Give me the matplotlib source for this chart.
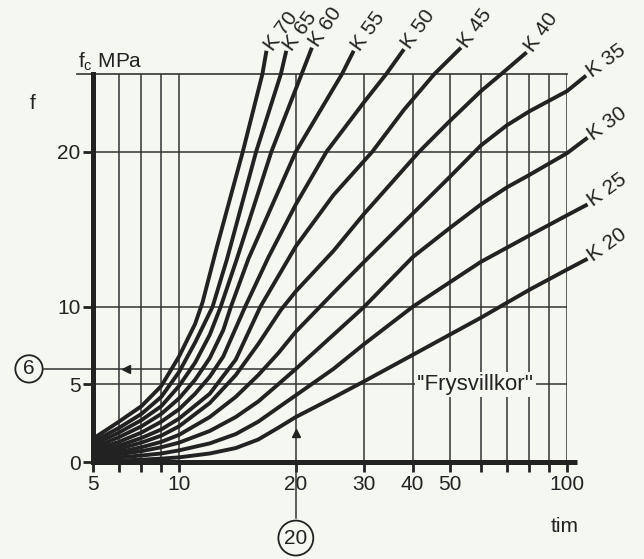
import numpy as np
import matplotlib.pyplot as plt

plt.rcParams['font.family'] = ['Liberation Sans', 'DejaVu Sans']

# hardening curves: time in hours (log axis) and strength fc in MPa
k20_t = [6, 7, 8, 9, 10, 12, 14, 16, 18, 20, 25, 30, 40, 60, 80, 100, 113]
k20_f = [0.05, 0.1, 0.15, 0.22, 0.3, 0.55, 0.9, 1.45, 2.2, 2.9, 4.15, 5.2, 6.9, 9.3, 11.1, 12.4, 13.1]
k25_t = [6, 7, 8, 9, 10, 12, 14, 16, 18, 20, 25, 30, 40, 50, 60, 80, 100, 113]
k25_f = [0.2, 0.3, 0.42, 0.55, 0.75, 1.2, 1.8, 2.6, 3.5, 4.3, 6.0, 7.6, 10.0, 11.6, 12.9, 14.6, 15.9, 16.6]
k30_t = [6, 7, 8, 9, 10, 12, 14, 16, 18, 20, 25, 30, 40, 50, 60, 70, 80, 100, 113]
k30_f = [0.3, 0.5, 0.7, 0.95, 1.25, 2.0, 2.9, 3.9, 5.0, 6.0, 8.2, 10.0, 13.2, 15.1, 16.6, 17.7, 18.5, 19.9, 20.9]
k35_t = [6, 7, 8, 9, 10, 12, 14, 16, 18, 20, 25, 30, 40, 50, 60, 70, 80, 100, 112]
k35_f = [0.4, 0.65, 0.95, 1.3, 1.75, 2.9, 4.2, 5.6, 7.0, 8.4, 10.9, 12.9, 16.0, 18.4, 20.4, 21.7, 22.6, 23.9, 24.9]
k40_t = [6, 7, 8, 9, 10, 12, 14, 16, 18.3, 20, 25, 30, 41.6, 50, 60, 67.7, 78.7]
k40_f = [0.5, 0.85, 1.25, 1.7, 2.3, 3.8, 5.6, 7.6, 9.8, 11.0, 13.6, 16.0, 20.0, 22.0, 23.9, 25.0, 26.4]
k45_t = [6, 7, 8, 9, 10, 12, 14, 16.2, 20, 25, 31.5, 38, 45.5, 53.3]
k45_f = [0.6, 1.05, 1.55, 2.1, 2.8, 4.4, 6.6, 10.0, 13.9, 17.2, 20.0, 22.7, 25.0, 26.7]
k50_t = [6, 7, 8, 9, 10, 11, 12, 13, 14.8, 17, 20, 24, 30, 34.2, 38.0]
k50_f = [0.75, 1.3, 1.9, 2.6, 3.4, 4.4, 5.5, 6.8, 10.0, 13.2, 16.6, 20.0, 23.2, 25.0, 26.6]
k55_t = [6, 7, 8, 9, 10, 11, 12, 13, 13.6, 15.1, 20.0, 26.3, 28.2]
k55_f = [0.9, 1.6, 2.3, 3.1, 4.1, 5.3, 6.7, 8.5, 10.0, 13.1, 20.0, 25.0, 26.5]
k60_t = [6, 7, 8, 9, 10, 11, 12, 12.8, 14.1, 17.3, 20.7, 22.0]
k60_f = [1.1, 1.9, 2.7, 3.6, 4.9, 6.4, 8.2, 10.0, 13.1, 20.0, 25.0, 26.7]
k65_t = [6, 7, 8, 9, 10, 11, 12.2, 13.3, 15.8, 18.3, 18.9]
k65_f = [1.3, 2.2, 3.1, 4.2, 5.8, 7.7, 10.0, 13.1, 20.0, 25.0, 26.5]
k70_t = [6, 7, 8, 9, 10, 11, 11.5, 12.5, 14.6, 16.4, 16.8]
k70_f = [1.5, 2.6, 3.6, 4.9, 6.8, 8.9, 10.3, 13.8, 20.0, 25.0, 26.5]

x_ticks = [6, 7, 8, 9, 10, 20, 30, 40, 50, 60, 70, 80, 90, 100]
x_tick_labels = ['5', '', '', '', '10', '20', '30', '40', '50', '', '', '', '', '100']
x_grid = [7, 8, 9, 10, 20, 30, 40, 50, 60, 70, 80, 90, 100]
y_ticks = [0, 5, 10, 20]
y_grid = [5, 10, 20]

# example reading: 20 h on K 30 gives 6 MPa
reading_t = 20
reading_f = 6

bg = '#f5f7f1'
ink = '#222222'

curves = [
    ('K 20', k20_t, k20_f, 36), ('K 25', k25_t, k25_f, 36),
    ('K 30', k30_t, k30_f, 36), ('K 35', k35_t, k35_f, 36),
    ('K 40', k40_t, k40_f, 54), ('K 45', k45_t, k45_f, 54),
    ('K 50', k50_t, k50_f, 54), ('K 55', k55_t, k55_f, 54),
    ('K 60', k60_t, k60_f, 56), ('K 65', k65_t, k65_f, 54),
    ('K 70', k70_t, k70_f, 54),
]

fig = plt.figure(figsize=(6.44, 5.59), dpi=100, facecolor=bg)
ax = fig.add_axes([0.1444, 0.1735, 0.736, 0.694])
ax.set_facecolor(bg)
ax.set_xscale('log')
ax.set_xlim(6, 100)
ax.set_ylim(0, 25)

# grid
for x in x_grid:
    ax.axvline(x, color='#333333', lw=1.1, zorder=1)
for y in y_grid:
    ax.axhline(y, color='#333333', lw=1.1, zorder=1)
ax.plot([-0.034, 1], [1, 1], transform=ax.transAxes, color='#333333',
        lw=1.2, clip_on=False, zorder=1)

# axes
for s in ['top', 'right', 'bottom']:
    ax.spines[s].set_visible(False)
ax.spines['left'].set_linewidth(3.6)
ax.spines['left'].set_color(ink)
ax.plot([0, 1.021], [0, 0], transform=ax.transAxes, color=ink, lw=3.6,
        clip_on=False, solid_capstyle='butt', zorder=5)

ax.set_xticks(x_ticks)
ax.set_xticklabels(x_tick_labels)
ax.xaxis.set_minor_locator(plt.NullLocator())
ax.set_yticks(y_ticks)
ax.tick_params(direction='out', length=7, width=2, labelsize=15, pad=2,
               colors=ink)

# curves and their labels
for label, t, f, rot in curves:
    ax.plot(t, f, color=ink, lw=2.8, clip_on=False, zorder=4,
            solid_joinstyle='round', solid_capstyle='butt')
    a = np.radians(rot)
    ax.annotate(label, xy=(t[-1], f[-1]), xytext=(2 * np.cos(a), 2 * np.sin(a)),
                textcoords='offset points', rotation=rot, rotation_mode='anchor',
                ha='left', va='center', fontsize=15, color=ink,
                annotation_clip=False)

ax.text(58, 5, "''Frysvillkor''", ha='center', va='center', fontsize=16,
        color=ink, zorder=3, bbox=dict(fc=bg, ec='none', pad=1.5))

# reading lines
frac_t = np.log10(reading_t / 6) / np.log10(100 / 6)
ax.plot([-0.103, frac_t], [reading_f, reading_f], transform=ax.get_yaxis_transform(),
        color='#333333', lw=1.1, clip_on=False, zorder=2)
ax.plot([reading_t, reading_t], [0, -0.144], transform=ax.get_xaxis_transform(),
        color='#333333', lw=1.1, clip_on=False, zorder=2)
ax.plot([7.3], [reading_f], marker='<', ms=6, color=ink, zorder=3)
ax.plot([reading_t], [1.9], marker='^', ms=6, color=ink, zorder=3)
ax.text(-0.135, reading_f, '6', transform=ax.get_yaxis_transform(), ha='center',
        va='center', fontsize=15, color=ink, clip_on=False,
        bbox=dict(boxstyle='circle,pad=0.2', fc=bg, ec=ink, lw=1.3))
ax.text(reading_t, -0.196, '20', transform=ax.get_xaxis_transform(), ha='center',
        va='center', fontsize=15, color=ink, clip_on=False,
        bbox=dict(boxstyle='circle,pad=0.28', fc=bg, ec=ink, lw=1.3))

fig.text(0.171, 0.878, r'$\mathregular{f_c}$ MPa', ha='center', va='baseline',
         fontsize=15, color=ink)
fig.text(0.051, 0.815, 'f', ha='center', va='center', fontsize=15, color=ink)
fig.text(0.877, 0.048, 'tim', ha='center', va='baseline', fontsize=15, color=ink)

fig.savefig('out.png', dpi=100, facecolor=bg)
